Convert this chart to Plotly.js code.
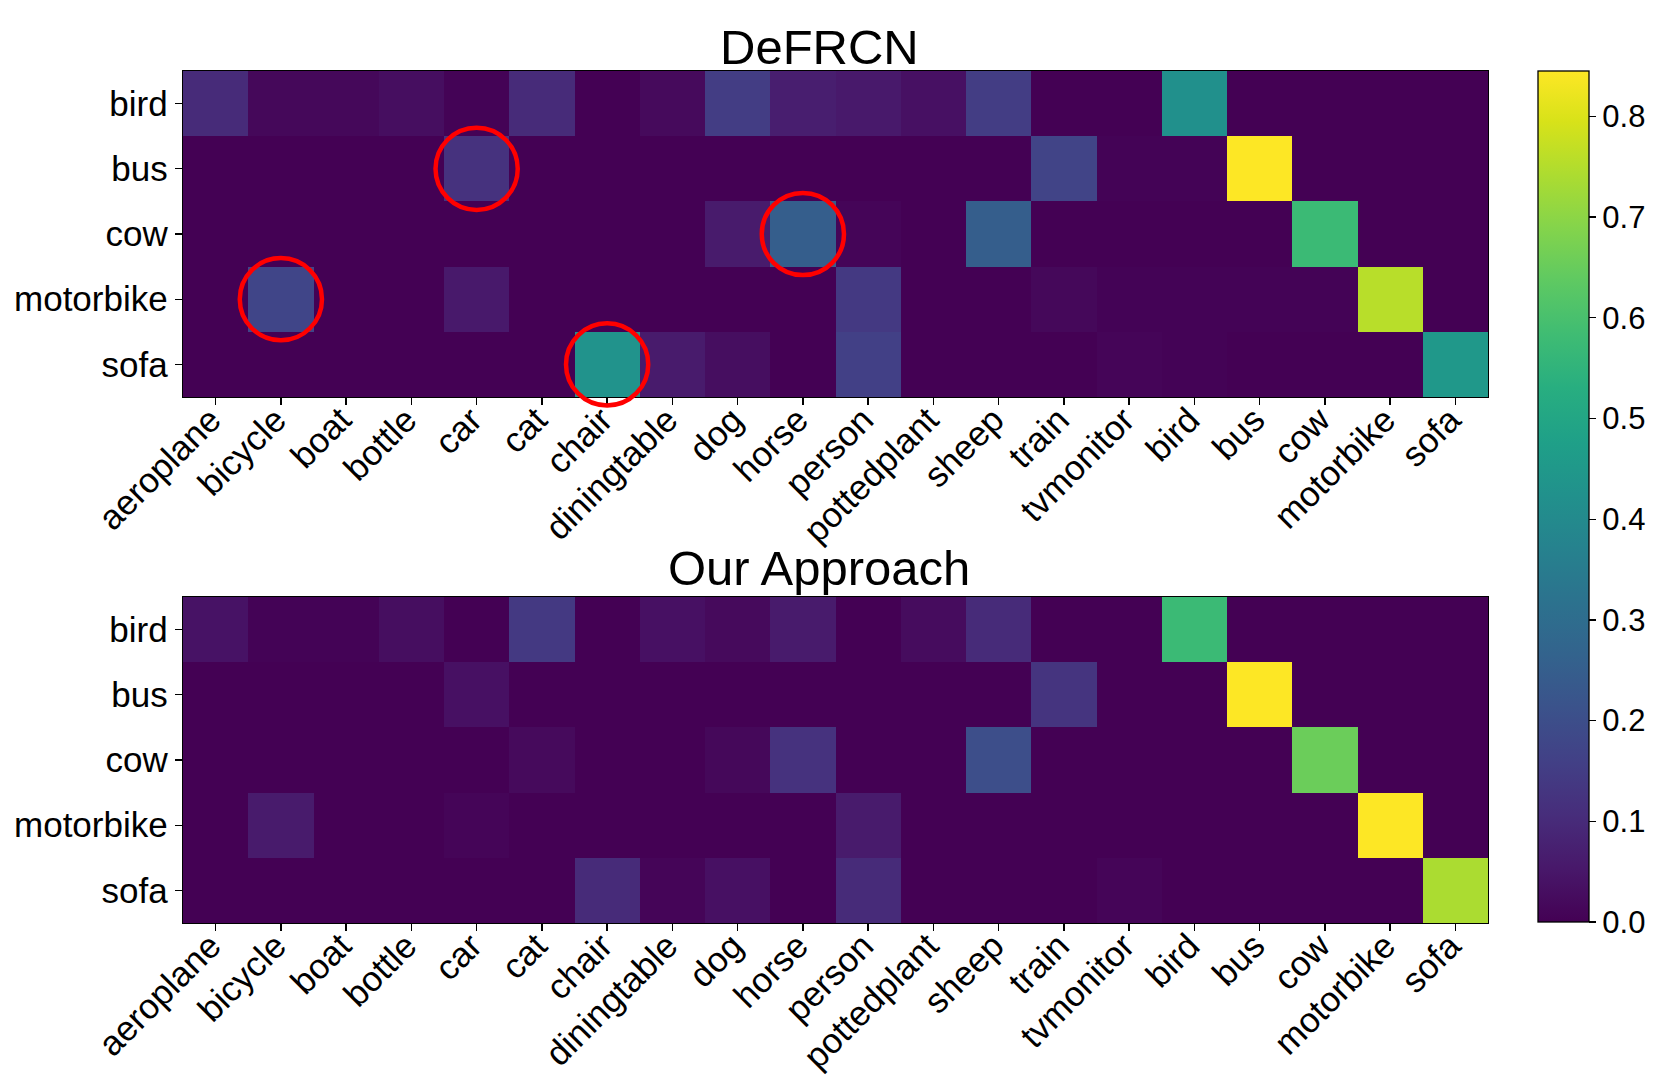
<!DOCTYPE html>
<html>
<head>
<meta charset="utf-8">
<script src="https://cdn.plot.ly/plotly-3.0.1.min.js"></script>
<style>
  html, body { margin: 0; padding: 0; background: #ffffff; }
  #chart { width: 1661px; height: 1087px; }
</style>
</head>
<body>
<div id="chart"></div>
<script>
// ---- data ----
const xLabels = ["aeroplane", "bicycle", "boat", "bottle", "car", "cat", "chair", "diningtable", "dog", "horse",
                 "person", "pottedplant", "sheep", "train", "tvmonitor", "bird", "bus", "cow", "motorbike", "sofa"];
const yLabels = ["bird", "bus", "cow", "motorbike", "sofa"];

// DeFRCN confusion rows (novel class -> predicted class)
const defrcnBird      = [0.10, 0.015, 0.015, 0.03, 0.005, 0.10, 0.0, 0.02, 0.15, 0.068, 0.055, 0.035, 0.15, 0.0, 0.0, 0.42, 0.0, 0.0, 0.0, 0.0];
const defrcnBus       = [0.0, 0.0, 0.0, 0.0, 0.12, 0.0, 0.0, 0.0, 0.0, 0.0, 0.0, 0.0, 0.0, 0.17, 0.005, 0.005, 0.845, 0.0, 0.0, 0.0];
const defrcnCow       = [0.0, 0.0, 0.0, 0.0, 0.0, 0.0, 0.0, 0.0, 0.06, 0.25, 0.01, 0.0, 0.25, 0.0, 0.0, 0.0, 0.0, 0.575, 0.0, 0.0];
const defrcnMotorbike = [0.0, 0.175, 0.0, 0.0, 0.055, 0.0, 0.0, 0.0, 0.0, 0.0, 0.14, 0.0, 0.0, 0.015, 0.005, 0.005, 0.005, 0.005, 0.756, 0.0];
const defrcnSofa      = [0.0, 0.0, 0.0, 0.0, 0.0, 0.0, 0.43, 0.06, 0.03, 0.0, 0.16, 0.0, 0.0, 0.0, 0.01, 0.005, 0.0, 0.0, 0.0, 0.45];

// Our Approach confusion rows
const oursBird      = [0.04, 0.005, 0.005, 0.03, 0.0, 0.14, 0.0, 0.035, 0.02, 0.06, 0.0, 0.025, 0.10, 0.0, 0.0, 0.575, 0.0, 0.0, 0.0, 0.0];
const oursBus       = [0.0, 0.0, 0.0, 0.0, 0.035, 0.0, 0.0, 0.0, 0.0, 0.0, 0.0, 0.0, 0.0, 0.125, 0.0, 0.0, 0.845, 0.0, 0.0, 0.0];
const oursCow       = [0.0, 0.0, 0.0, 0.0, 0.0, 0.02, 0.0, 0.0, 0.015, 0.12, 0.0, 0.0, 0.20, 0.0, 0.0, 0.0, 0.0, 0.655, 0.0, 0.0];
const oursMotorbike = [0.0, 0.06, 0.0, 0.0, 0.01, 0.0, 0.0, 0.0, 0.0, 0.0, 0.06, 0.0, 0.0, 0.0, 0.0, 0.0, 0.0, 0.0, 0.845, 0.0];
const oursSofa      = [0.0, 0.0, 0.0, 0.0, 0.0, 0.0, 0.10, 0.01, 0.035, 0.0, 0.10, 0.0, 0.0, 0.0, 0.01, 0.0, 0.0, 0.0, 0.0, 0.74];

const titles = ["DeFRCN", "Our Approach"];
const colorTicks = [0.0, 0.1, 0.2, 0.3, 0.4, 0.5, 0.6, 0.7, 0.8];
// highlighted cells in the DeFRCN map: [row label, column label]
const highlights = [["bus", "car"], ["cow", "horse"], ["motorbike", "bicycle"], ["sofa", "chair"]];

// ---- layout geometry ----
const W = 1661, H = 1087;
const px = v => v / W;
const py = v => 1 - v / H;
const xDom = [px(183), px(1488)];
const yDomTop = [py(397), py(71)];
const yDomBot = [py(923), py(597)];

const FONT = "Liberation Sans, Arial, Helvetica, sans-serif";
const tickFont = {family: FONT, size: 35, color: "#000"};

const zTop = [defrcnBird, defrcnBus, defrcnCow, defrcnMotorbike, defrcnSofa];
const zBot = [oursBird, oursBus, oursCow, oursMotorbike, oursSofa];

const traces = [
  {type: "heatmap", x: xLabels, y: yLabels, z: zTop, coloraxis: "coloraxis", xaxis: "x", yaxis: "y", hoverongaps: false},
  {type: "heatmap", x: xLabels, y: yLabels, z: zBot, coloraxis: "coloraxis", xaxis: "x2", yaxis: "y2", hoverongaps: false}
];

function xAxis(anchor) {
  return {
    domain: xDom, anchor: anchor, type: "category",
    tickangle: -45, tickfont: tickFont,
    ticklabelstandoff: -20, ticklabelshift: -5,
    ticks: "outside", ticklen: 7, tickwidth: 1.3, tickcolor: "#000",
    showline: true, mirror: true, linecolor: "#000", linewidth: 1.3,
    showgrid: false, zeroline: false, automargin: false
  };
}
function yAxis(anchor, dom) {
  return {
    domain: dom, anchor: anchor, type: "category", autorange: "reversed",
    tickfont: tickFont,
    ticks: "outside", ticklen: 7, tickwidth: 1.3, tickcolor: "#000",
    showline: true, mirror: true, linecolor: "#000", linewidth: 1.3,
    showgrid: false, zeroline: false, automargin: false
  };
}

// red circles around highlighted cells (domain refs so they are not clipped)
const rx = 0.63 / xLabels.length;
const ry = 0.63 / yLabels.length;
const shapes = highlights.map(([row, col]) => {
  const ci = xLabels.indexOf(col);
  const ri = yLabels.indexOf(row);
  const cx = (ci + 0.5) / xLabels.length;
  const cy = 1 - (ri + 0.5) / yLabels.length;
  return {
    type: "circle", xref: "x domain", yref: "y domain",
    x0: cx - rx, x1: cx + rx, y0: cy - ry, y1: cy + ry,
    line: {color: "#ff0000", width: 4.5}, fillcolor: "rgba(0,0,0,0)", layer: "above"
  };
});

const annotations = [
  {text: titles[0], xref: "paper", yref: "paper", x: px(819), y: py(47.5), xanchor: "center", yanchor: "middle",
   showarrow: false, font: {family: FONT, size: 49, color: "#000"}},
  {text: titles[1], xref: "paper", yref: "paper", x: px(819), y: py(568), xanchor: "center", yanchor: "middle",
   showarrow: false, font: {family: FONT, size: 49, color: "#000"}}
];

const layout = {
  width: W, height: H,
  margin: {l: 0, r: 0, t: 0, b: 0, pad: 0},
  paper_bgcolor: "#ffffff", plot_bgcolor: "#ffffff",
  font: {family: FONT, color: "#000"},
  showlegend: false,
  xaxis: xAxis("y"),
  yaxis: yAxis("x", yDomTop),
  xaxis2: xAxis("y2"),
  yaxis2: yAxis("x2", yDomBot),
  coloraxis: {
    colorscale: "Viridis", cmin: 0, cmax: 0.845,
    colorbar: {
      x: px(1538), xanchor: "left", xpad: 0, ypad: 0,
      y: py(496.5), yanchor: "middle",
      len: 851 / H, lenmode: "fraction",
      thickness: 51, thicknessmode: "pixels",
      outlinewidth: 1.3, outlinecolor: "#000",
      ticks: "outside", ticklen: 7, tickwidth: 1.3, tickcolor: "#000",
      tickvals: colorTicks, ticktext: colorTicks.map(v => v.toFixed(1)),
      tickfont: {family: FONT, size: 31, color: "#000"}
    }
  },
  shapes: shapes,
  annotations: annotations
};

Plotly.newPlot("chart", traces, layout, {displayModeBar: false, staticPlot: true});
</script>
</body>
</html>
